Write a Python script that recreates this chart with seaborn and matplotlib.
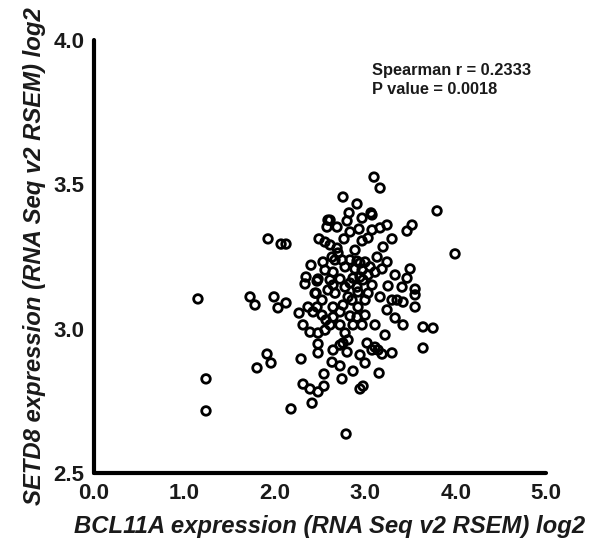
import matplotlib
matplotlib.use("Agg")
import matplotlib.pyplot as plt
import seaborn as sns
import pandas as pd

bcl11a = [
    1.150, 1.239, 1.239, 1.925, 2.069, 2.124, 1.726, 1.781, 1.991, 2.035,
    2.124, 1.803, 1.914, 1.958, 2.179, 2.412, 2.290, 2.312, 2.389, 2.478,
    2.544, 2.544, 2.478, 2.478, 2.478, 2.389, 2.312, 2.268, 2.367, 2.467,
    2.566, 2.555, 2.400, 2.345, 2.334, 2.467, 2.456, 2.489, 2.555, 2.577,
    2.588, 2.533, 2.555, 3.097, 3.164, 2.754, 2.909, 2.821, 3.064, 2.965,
    2.611, 2.688, 2.799, 3.794, 2.931, 3.075, 3.164, 3.241, 3.518, 3.462,
    2.765, 2.965, 3.031, 3.197, 3.296, 3.993, 2.688, 2.633, 2.666, 2.743,
    2.909, 2.998, 3.131, 2.644, 2.777, 2.887, 2.965, 3.053, 3.186, 2.478,
    2.611, 2.721, 2.865, 2.942, 3.031, 3.496, 3.462, 2.445, 2.644, 2.777,
    2.909, 2.666, 2.810, 2.920, 3.031, 3.252, 3.407, 3.551, 3.164, 3.352,
    3.418, 3.551, 3.551, 2.644, 2.754, 2.920, 2.644, 2.832, 2.909, 2.611,
    2.721, 2.865, 2.965, 3.108, 3.418, 3.639, 3.750, 2.777, 2.644, 2.799,
    2.754, 3.020, 3.075, 3.142, 3.186, 3.296, 3.639, 2.633, 2.721, 2.865,
    2.998, 3.153, 2.743, 2.942, 2.976, 2.788, 3.075, 3.108, 3.108, 2.942,
    2.832, 2.699, 2.832, 2.976, 3.075, 2.588, 2.854, 2.522, 2.998, 3.241,
    3.330, 2.721, 2.810, 2.942, 2.423, 2.887, 2.611, 3.241, 3.330, 2.522,
    2.998, 3.219, 3.296, 2.832, 2.721,
]

setd8 = [
    3.103, 2.826, 2.715, 3.311, 3.293, 3.293, 3.110, 3.082, 3.110, 3.072,
    3.089, 2.864, 2.912, 2.881, 2.722, 2.742, 2.895, 2.808, 2.791, 2.781,
    2.801, 2.843, 2.916, 2.947, 2.985, 2.988, 3.013, 3.054, 3.075, 3.075,
    3.030, 2.995, 3.220, 3.179, 3.155, 3.165, 3.123, 3.311, 3.300, 3.352,
    3.376, 3.231, 3.203, 3.525, 3.487, 3.456, 3.432, 3.401, 3.401, 3.383,
    3.376, 3.352, 3.373, 3.408, 3.345, 3.342, 3.349, 3.359, 3.359, 3.338,
    3.311, 3.304, 3.314, 3.283, 3.311, 3.259, 3.279, 3.248, 3.238, 3.238,
    3.234, 3.231, 3.248, 3.196, 3.214, 3.207, 3.203, 3.214, 3.207, 3.172,
    3.169, 3.172, 3.175, 3.179, 3.186, 3.207, 3.175, 3.123, 3.151, 3.144,
    3.144, 3.123, 3.110, 3.127, 3.123, 3.148, 3.144, 3.137, 3.110, 3.099,
    3.092, 3.117, 3.075, 3.075, 3.082, 3.075, 3.040, 3.044, 3.040, 3.013,
    3.013, 3.013, 3.013, 3.013, 3.013, 3.006, 3.002, 2.985, 2.926, 2.919,
    2.950, 2.950, 2.926, 2.926, 2.912, 2.916, 2.933, 2.884, 2.871, 2.853,
    2.881, 2.846, 2.826, 2.791, 2.801, 2.635, 3.394, 3.196, 2.936, 3.227,
    3.238, 3.262, 3.158, 3.169, 3.151, 3.134, 3.099, 3.099, 3.099, 3.065,
    3.037, 3.058, 2.961, 2.909, 3.058, 3.272, 3.290, 3.231, 3.186, 3.047,
    3.047, 2.978, 3.099, 3.335, 2.943,
]

x_ticks = [0.0, 1.0, 2.0, 3.0, 4.0, 5.0]
y_ticks = [2.5, 3.0, 3.5, 4.0]
x_label = "BCL11A expression (RNA Seq v2 RSEM) log2"
y_label = "SETD8 expression (RNA Seq v2 RSEM) log2"
stats_text = "Spearman r = 0.2333\nP value = 0.0018"

sns.set_style("white")
plt.rcParams["font.family"] = ["Liberation Sans", "DejaVu Sans"]

df = pd.DataFrame({"x": bcl11a, "y": setd8})

fig = plt.figure(figsize=(5.91, 5.47), dpi=100)
ax = fig.add_axes([0.159, 0.1353, 0.765, 0.7916])

sns.scatterplot(data=df, x="x", y="y", ax=ax, s=38, marker="o",
                facecolors="none", edgecolor="black", linewidth=2.0)

ax.set_xlim(0, 5)
ax.set_ylim(2.5, 4.0)
ax.set_xticks(x_ticks)
ax.set_xticklabels([f"{v:.1f}" for v in x_ticks])
ax.set_yticks(y_ticks)
ax.set_yticklabels([f"{v:.1f}" for v in y_ticks])

for side in ["top", "right"]:
    ax.spines[side].set_visible(False)
for side in ["left", "bottom"]:
    ax.spines[side].set_linewidth(3.0)
    ax.spines[side].set_color("black")
    ax.spines[side].set_capstyle("round")

ax.tick_params(axis="both", direction="out", length=3, width=3.0,
               color="black", labelsize=16, pad=4)
for lab in ax.get_xticklabels() + ax.get_yticklabels():
    lab.set_fontweight("bold")
    lab.set_color("#1a1a1a")

ax.set_xlabel(x_label, fontsize=17.2, fontweight="bold", fontstyle="italic",
              color="#1a1a1a")
ax.set_ylabel(y_label, fontsize=17.2, fontweight="bold", fontstyle="italic",
              labelpad=5, color="#1a1a1a")
ax.xaxis.set_label_coords(0.52, -0.097)

ax.text(0.615, 0.948, stats_text, transform=ax.transAxes, fontsize=11.8,
        fontweight="bold", va="top", ha="left", color="#1a1a1a",
        linespacing=1.35)

fig.savefig("out.png", dpi=100)
